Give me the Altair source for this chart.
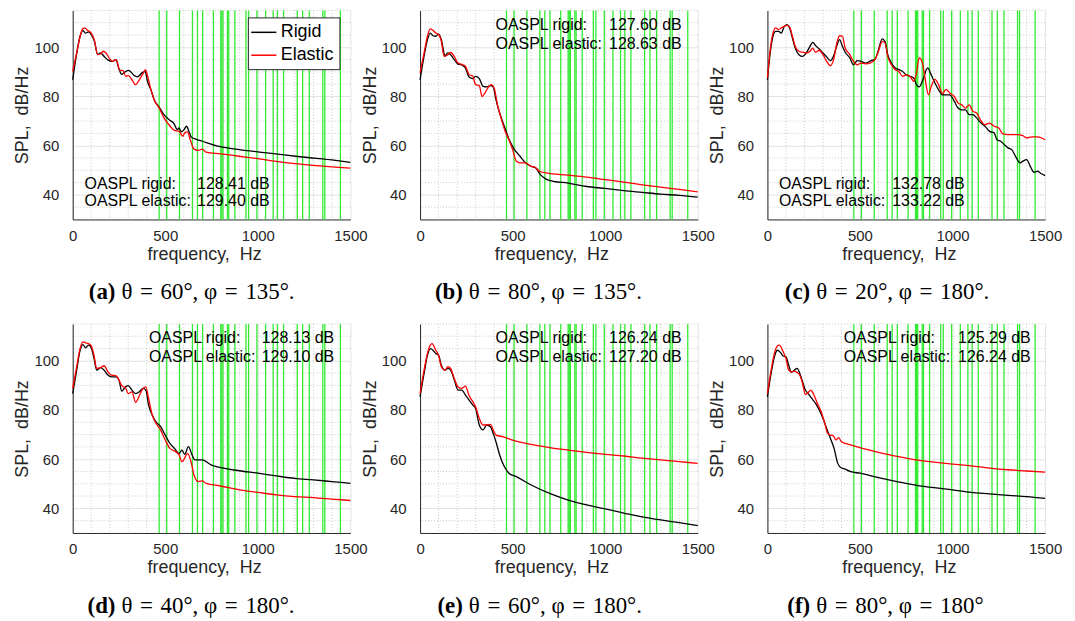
import altair as alt
import pandas as pd

# ---------------- data ----------------
# panel (a)
a_f_r = [0,10,25,40,55,70,85,100,117,135,150,170,188,215,233,251,265,287,301,314,332,350,377,391,404,422,440,467,493,520,547,565,574,587,601,615,628,641,664,700,790,880,1060,1240,1420,1500]
a_s_r = [86.8,92,99,104.5,106.8,105.8,106.3,105.3,102.5,97,97.7,96.3,95,94.3,95,91,89,90.2,90.6,90,88.5,88,89.8,90.2,86.2,82.8,78.7,75.7,72.6,70.6,69,66.5,67.2,65.6,66.5,67.9,65.8,63.4,62.7,61.8,59.7,58.6,57,55.4,54,53.2]
a_f_e = [0,25,40,55,65,80,100,117,135,150,165,180,200,215,235,255,270,287,301,320,340,360,380,393,405,422,440,467,493,520,550,575,595,605,620,635,655,680,700,720,800,900,1000,1100,1200,1300,1500]
a_s_e = [90.2,99,104.5,107.6,107.9,106.9,105.8,103,97,97.3,98.4,97.7,95.3,94.3,95,90.6,90.6,88.2,88.5,86.8,84.8,86.8,89.3,90.9,88.2,83,78.7,75.3,71.3,68.5,66.2,65.8,63.8,65.2,65.6,62.4,58.6,58.1,58.6,57.4,56.7,55.7,54.7,53.6,52.7,52,50.9]
# panel (b)
b_f_r = [0,20,40,55,70,85,100,115,135,150,165,185,205,225,245,265,285,300,320,340,360,380,395,410,430,455,480,510,540,570,600,625,650,680,720,800,900,1000,1100,1200,1300,1400,1500]
b_s_r = [86.8,95.7,103.1,105.8,104.7,104.5,105.4,103.1,96.6,97.7,97,95,93.2,92.9,91.6,87.9,87.3,88.2,87.3,84.1,83.9,84.4,83.9,78.7,73.3,67.9,62.7,58.4,55.7,53,51.6,50.9,48.2,46.4,45.5,44.8,43.4,42.6,41.7,41,40.3,39.8,39.1]
b_f_e = [0,20,40,55,70,85,100,115,130,150,165,185,205,230,245,265,285,300,320,335,350,370,385,400,420,440,460,480,500,520,545,570,600,620,645,680,800,900,1000,1100,1200,1300,1400,1500]
b_s_e = [89.6,97,104.5,107.5,106.9,105.8,105.2,102.4,96.3,97,97.9,96.3,93.6,92.9,92.3,88.9,88.2,84.8,84.4,80,81.4,83.9,84.8,83.5,76,70.6,65.8,62.4,58.4,53.7,53,53,51.6,51.3,49.6,48.9,48,47.2,46.2,45.2,44.1,43.1,42.2,41.2]
# panel (c)
c_f_r = [0,15,30,45,60,75,90,105,120,135,150,170,190,210,230,245,260,280,300,320,340,360,375,390,405,420,445,465,485,505,530,560,580,600,620,635,650,670,690,710,730,750,770,790,805,820,840,865,885,905,925,945,965,985,1010,1030,1050,1070,1090,1110,1130,1150,1175,1200,1225,1240,1260,1280,1300,1320,1340,1365,1380,1400,1420,1440,1460,1480,1500]
c_s_r = [86.8,97.7,104.5,106.5,106.5,105.8,108.3,109.2,107.9,103.8,99.7,97,96.3,97.7,100.4,102,100.7,99.3,97.7,96.1,94.6,97,100.7,103.1,100.4,98,95.7,92.9,94.6,94.3,93.6,94.6,95,99,103.4,102.4,97,93.6,91.6,90.9,90.2,88.8,88.2,87.5,84.8,83.9,86.8,91.6,88.8,85.5,82.7,80.7,80.7,80.7,78,75.3,74.6,74.6,72.6,72.6,71.3,69.5,67.9,65.8,65.2,62.4,61.8,60.4,59.1,58.4,55.7,53,53.7,54.3,51.6,49.2,49.6,48.6,47.8]
c_f_e = [0,15,30,45,60,75,90,105,120,135,150,170,190,210,230,245,260,280,300,320,340,360,375,390,405,420,445,465,485,505,530,560,580,600,620,635,650,670,690,710,730,750,770,790,805,820,835,850,870,885,905,925,945,965,985,1010,1030,1050,1070,1090,1110,1130,1150,1175,1200,1225,1250,1270,1300,1350,1380,1400,1430,1460,1500]
c_s_e = [87.5,99,105.8,107.9,107.2,107.9,108.5,108.9,108.3,104.5,100.4,98.4,98,97.7,98.4,99.7,98,98.8,97,94.3,92.5,95.7,101.8,104.7,104.5,99.7,97,94.3,92.9,93.6,93.3,93.8,95,98.4,102.4,101.8,96.3,92.9,90.9,90.2,88.2,88.8,88.2,86.2,89.5,95.7,94.3,88.2,80.7,84.1,87,84.8,81.1,82.9,81.4,80,77.3,76.6,75.3,76.6,74,73.3,70.6,68.5,69.2,67.9,67.2,64.9,64.5,64.5,64.1,63.2,63.6,63.6,62.4]
# panel (d)
d_f_r = [0,20,40,55,70,85,100,115,130,150,170,190,210,235,250,265,285,300,320,340,360,380,395,410,430,450,475,500,525,550,575,590,605,625,645,660,700,750,800,900,1000,1100,1200,1300,1400,1500]
d_s_r = [86.7,95.5,104.3,106.6,105.3,106.4,105.3,101,96.2,97.2,96.2,94.2,93.5,93.5,92.2,87.7,89.4,89.9,88.1,86.7,87.4,88.8,88.1,82,77.9,75.2,73.2,69.8,66.4,64.4,62.3,63.7,62,65.1,61.7,59.7,59.7,57.6,56.6,55.3,54.3,53.2,52.2,51.6,50.9,50.2]
d_f_e = [0,20,40,55,70,85,100,115,130,150,170,190,210,235,250,265,285,300,320,340,360,380,395,410,430,450,475,500,525,550,575,590,605,620,640,655,680,700,720,800,900,1000,1100,1200,1300,1400,1500]
d_s_e = [88.8,96.9,105,107.7,107.3,107,106.1,102.3,96.9,97.2,98,95.5,94.2,93.9,92.2,89.9,89,86.7,87.4,83.1,85.8,88.8,89.4,84.7,77.9,74.6,71.9,67.8,64.4,63.3,61.7,59,60.4,62.4,58.7,53.6,50.9,51.2,50.2,49.1,47.5,46.5,45.5,44.8,44.4,43.8,43.2]
# panel (e)
e_f_r = [0,20,40,55,70,85,100,115,135,150,165,185,205,225,245,265,285,300,320,340,360,380,395,410,430,455,480,520,600,700,800,900,1000,1100,1200,1300,1400,1500]
e_s_r = [85.4,94.2,102.3,105,104.3,103,102.3,98.2,96.2,96.9,96.2,92.2,88.1,88.1,86.1,84,82,80.6,73.9,71.9,73.9,73.2,70.5,67.1,61.7,57,54.3,52.9,49.5,46.1,43.4,41.4,39.8,38.1,36.5,35.3,34.2,33]
e_f_e = [0,20,40,55,65,85,100,115,135,150,165,185,205,225,245,265,285,300,320,340,360,380,395,410,450,500,600,700,800,900,1000,1100,1200,1300,1400,1500]
e_s_e = [86.7,95.5,103,106.4,107,104.3,102.3,97.6,96.2,97.6,96.9,92.8,89.4,88.8,89.7,85.8,83.4,81.3,76.6,73.9,73.9,74.2,71.9,69.8,69.1,67.8,66,64.7,63.7,62.8,62,61.3,60.4,59.7,59,58.3]
# panel (f)
f_f_r = [0,20,40,55,70,85,100,115,130,145,160,175,190,205,220,240,260,280,300,320,340,360,380,400,420,450,500,600,700,800,900,1000,1100,1200,1300,1400,1500]
f_s_r = [85.4,94.9,102.3,104.3,103.4,102,101.6,98.2,95.3,96.2,96.9,94.9,91.5,88.1,86.7,84.7,82.7,80,76.6,72.5,68.5,64.4,58.3,56.4,56,54.9,54.3,52.5,50.9,49.5,48.4,47.5,46.5,45.9,45.3,44.8,44.1]
f_f_e = [0,20,40,55,65,85,100,115,130,145,160,175,190,205,220,235,250,270,290,310,325,340,355,370,385,400,450,500,600,700,800,900,1000,1100,1200,1300,1400,1500]
f_s_e = [86.7,96.2,103.7,106.1,106.4,103.7,101,96.2,95.5,95.8,95.3,94.2,90.8,86.3,87.1,88.1,86.3,82.7,79.4,74.6,70.5,69.8,69.6,67.8,68.8,67.1,65.8,64.7,62.8,61.1,59.7,58.8,58,57.3,56.4,55.7,55.2,54.7]

# structural mode frequencies (green lines)
mode_freqs = [467,508,577,647,674,702,760,800,806,812,836,843,876,936,950,995,1042,1083,1106,1139,1213,1242,1278,1351,1362,1446]

# annotations
panel_keys = ["a","b","c","d","e","f"]
oaspl_rigid = [128.41,127.60,132.78,128.13,126.24,125.29]
oaspl_elastic = [129.40,128.63,133.22,129.10,127.20,126.24]
note_label_x = [64,408,62,412,408,412]
note_value_x = [672,1021,674,1021,1021,1030]
note_y1 = [44.6,109.2,44.6,109.3,109.3,109.3]
note_y2 = [37.3,101.4,37.3,101.6,101.6,101.6]
cap_labels = ["(a)","(b)","(c)","(d)","(e)","(f)"]
SP = "\u2004"
cap_texts = [f"θ{SP}={SP}60°, φ{SP}={SP}135°.", f"θ{SP}={SP}80°, φ{SP}={SP}135°.",
             f"θ{SP}={SP}20°, φ{SP}={SP}180°.", f"θ{SP}={SP}40°, φ{SP}={SP}180°.",
             f"θ{SP}={SP}60°, φ{SP}={SP}180°.", f"θ{SP}={SP}80°, φ{SP}={SP}180°"]

x_major = [0,500,1000,1500]
y_major = [40,60,80,100]
x_minor = [100,200,300,400,600,700,800,900,1100,1200,1300,1400]
y_minor = [35,45,50,55,65,70,75,85,90,95,105,110,115]

series = ["Rigid","Elastic"]
series_colors = ["#000000","#ff0000"]

curves = {
    "a": (a_f_r,a_s_r,a_f_e,a_s_e), "b": (b_f_r,b_s_r,b_f_e,b_s_e),
    "c": (c_f_r,c_s_r,c_f_e,c_s_e), "d": (d_f_r,d_s_r,d_f_e,d_s_e),
    "e": (e_f_r,e_s_r,e_f_e,e_s_e), "f": (f_f_r,f_s_r,f_f_e,f_s_e),
}

# ---------------- chart ----------------
W, H = 279, 210
FONT = "Liberation Sans"
INK = "#262626"
NB = "\u00a0"

def X(field="f"):
    return alt.X(f"{field}:Q", scale=alt.Scale(domain=[0,1500], nice=False, zero=False),
                 axis=alt.Axis(values=x_major, format="d", title=f"frequency,{NB}{NB}Hz", grid=True,
                               labelPadding=9, titlePadding=2, labelFlush=False, titleX=132))

def Y(field="spl"):
    return alt.Y(f"{field}:Q", scale=alt.Scale(domain=[30,115], nice=False, zero=False),
                 axis=alt.Axis(values=y_major, format="d", title=f"SPL,{NB}{NB}dB/Hz", grid=True,
                               labelPadding=14, titlePadding=2, labelFlush=False))

color_scale = alt.Scale(domain=series, range=series_colors)

def panel(i):
    k = panel_keys[i]
    fr, sr, fe, se = curves[k]
    df_r = pd.DataFrame({"f": fr, "spl": sr, "series": "Rigid"})
    df_e = pd.DataFrame({"f": fe, "spl": se, "series": "Elastic"})
    if i == 0:
        leg = alt.Legend(title=None)
    else:
        leg = None

    minor_x = alt.Chart(pd.DataFrame({"f": x_minor})).mark_rule(
        color="#bdbdbd", strokeDash=[1,2], strokeWidth=0.8).encode(x=X())
    minor_y = alt.Chart(pd.DataFrame({"spl": y_minor})).mark_rule(
        color="#bdbdbd", strokeDash=[1,2], strokeWidth=0.8).encode(y=Y())
    green = alt.Chart(pd.DataFrame({"f": mode_freqs})).mark_rule(
        color="#33ea33", strokeWidth=1.3).encode(x=X())
    line_r = alt.Chart(df_r).mark_line(strokeWidth=1.3, interpolate="monotone").encode(
        x=X(), y=Y(), color=alt.Color("series:N", scale=color_scale, legend=leg))
    line_e = alt.Chart(df_e).mark_line(strokeWidth=1.3, interpolate="monotone").encode(
        x=X(), y=Y(), color=alt.Color("series:N", scale=color_scale, legend=leg))
    notes = pd.DataFrame({
        "f": [note_label_x[i], note_label_x[i], note_value_x[i], note_value_x[i]],
        "spl": [note_y1[i], note_y2[i], note_y1[i], note_y2[i]],
        "txt": ["OASPL rigid:", "OASPL elastic:",
                f"{oaspl_rigid[i]:.2f} dB", f"{oaspl_elastic[i]:.2f} dB"],
    })
    txt = alt.Chart(notes).mark_text(align="left", baseline="middle", font=FONT,
                                     fontSize=16, color="#000000").encode(
        x=X(), y=Y(), text="txt:N")
    cap = pd.DataFrame({"lab": [cap_labels[i]], "desc": [cap_texts[i]]})
    cap1 = alt.Chart(cap).mark_text(align="right", baseline="middle", font="Liberation Serif",
                                    fontSize=23, fontWeight="bold", color="#000000").encode(
        x=alt.value(43), y=alt.value(283), text="lab:N")
    cap2 = alt.Chart(cap).mark_text(align="left", baseline="middle", font="Liberation Serif",
                                    fontSize=23, color="#000000").encode(
        x=alt.value(49), y=alt.value(283), text="desc:N")
    return alt.layer(minor_x, minor_y, green, line_r, line_e, txt, cap1, cap2).properties(
        width=W, height=H)

chart = alt.concat(*[panel(i) for i in range(6)], columns=3,
                   spacing=alt.RowColnumber(row=105, column=70), bounds="flush").properties(
    padding={"left": 5, "top": 0, "right": 5, "bottom": 0}
).configure_view(stroke=None).configure_axis(
    labelFont=FONT, titleFont=FONT, labelFontSize=15, titleFontSize=18,
    titleFontWeight="normal", labelColor=INK, titleColor=INK, domainColor=INK,
    domainWidth=1, gridColor="#e2e2e2", gridWidth=1, ticks=False
).configure_legend(
    orient="none", legendX=176, legendY=7, fillColor="#ffffff", strokeColor=INK,
    padding=5, symbolType="M-1.4,0H1.4", symbolSize=324, symbolStrokeWidth=1.5,
    symbolOffset=1, labelFont=FONT, labelFontSize=18, labelColor="#000000",
    labelOffset=7, rowPadding=4, cornerRadius=0
)

chart.save("out.html", embed_options={"renderer": "svg", "actions": False})
